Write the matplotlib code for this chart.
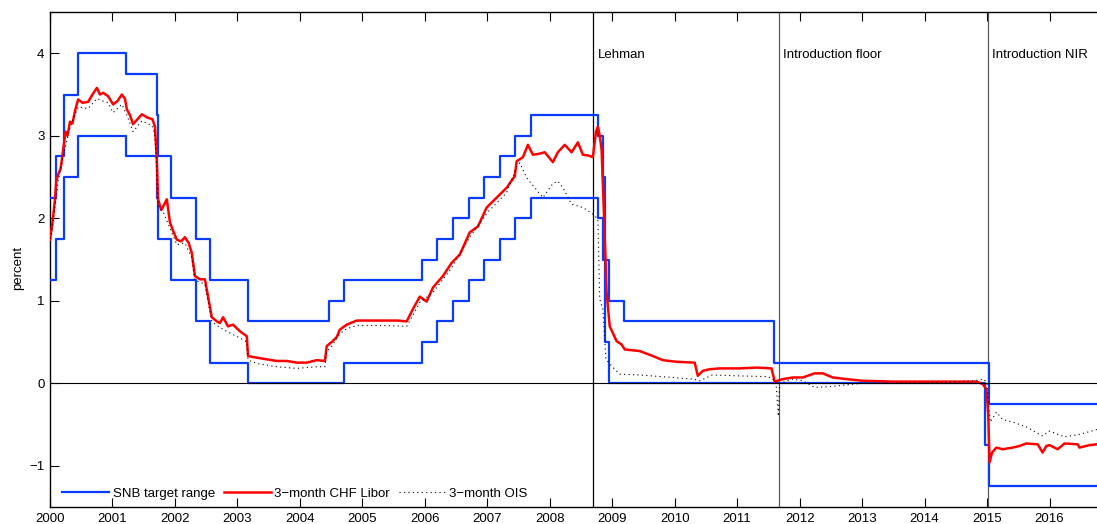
import numpy as np
import pandas as pd
import matplotlib
matplotlib.use('Agg')
import matplotlib.pyplot as plt

plt.rcParams['font.family'] = ['Liberation Sans', 'DejaVu Sans']
plt.rcParams['font.size'] = 9.5

# SNB target range for 3-month CHF Libor (start date of each range)
snb_dates = ['2000-01-01', '2000-02-03', '2000-03-23', '2000-06-15', '2001-03-22',
             '2001-09-17', '2001-09-24', '2001-12-07', '2002-05-02', '2002-07-26',
             '2003-03-06', '2004-06-17', '2004-09-16', '2005-12-15', '2006-03-16',
             '2006-06-15', '2006-09-14', '2006-12-14', '2007-03-15', '2007-06-14',
             '2007-09-13', '2008-10-08', '2008-11-06', '2008-11-20', '2008-12-11',
             '2009-03-12', '2011-08-03', '2014-12-18', '2015-01-15', '2016-12-31']
snb_lower = [1.25, 1.75, 2.5, 3.0, 2.75, 2.25, 1.75, 1.25, 0.75, 0.25,
             0.0, 0.0, 0.25, 0.5, 0.75, 1.0, 1.25, 1.5, 1.75, 2.0,
             2.25, 2.0, 1.5, 0.5, 0.0, 0.0, 0.0, -0.75, -1.25, -1.25]
snb_upper = [2.25, 2.75, 3.5, 4.0, 3.75, 3.25, 2.75, 2.25, 1.75, 1.25,
             0.75, 1.0, 1.25, 1.5, 1.75, 2.0, 2.25, 2.5, 2.75, 3.0,
             3.25, 3.0, 2.5, 1.5, 1.0, 0.75, 0.25, 0.25, -0.25, -0.25]

# 3-month CHF Libor (decimal year, percent)
libor_t = [2000.00, 2000.04, 2000.08, 2000.10, 2000.13, 2000.17, 2000.21, 2000.25, 2000.28, 2000.32,
           2000.36, 2000.40, 2000.45, 2000.52, 2000.61, 2000.68, 2000.75, 2000.80, 2000.85, 2000.93,
           2001.01, 2001.08, 2001.15, 2001.20, 2001.23, 2001.28, 2001.33, 2001.40, 2001.47, 2001.56,
           2001.64, 2001.68, 2001.71, 2001.73, 2001.78, 2001.81, 2001.87, 2001.92, 2001.97, 2002.03,
           2002.10, 2002.16, 2002.22, 2002.27, 2002.32, 2002.40, 2002.48, 2002.53, 2002.59, 2002.67,
           2002.72, 2002.77, 2002.85, 2002.93, 2003.04, 2003.15, 2003.17, 2003.31, 2003.47, 2003.63,
           2003.79, 2003.95, 2004.11, 2004.27, 2004.40, 2004.43, 2004.51, 2004.59, 2004.64, 2004.75,
           2004.91, 2005.12, 2005.33, 2005.55, 2005.71, 2005.81, 2005.92, 2006.03, 2006.13, 2006.29,
           2006.43, 2006.56, 2006.72, 2006.85, 2006.99, 2007.15, 2007.31, 2007.44, 2007.47, 2007.57,
           2007.65, 2007.73, 2007.82, 2007.92, 2008.05, 2008.13, 2008.24, 2008.35, 2008.45, 2008.53,
           2008.62, 2008.69, 2008.74, 2008.77, 2008.80, 2008.83, 2008.87, 2008.91, 2008.96, 2009.07,
           2009.15, 2009.20, 2009.44, 2009.65, 2009.81, 2010.03, 2010.32, 2010.37, 2010.45, 2010.56,
           2010.72, 2011.04, 2011.31, 2011.55, 2011.60, 2011.73, 2011.89, 2012.05, 2012.24, 2012.37,
           2012.53, 2012.75, 2013.01, 2013.50, 2013.97, 2014.51, 2014.83, 2014.93, 2014.99, 2015.02,
           2015.04, 2015.08, 2015.15, 2015.25, 2015.41, 2015.52, 2015.63, 2015.81, 2015.89, 2015.95,
           2016.00, 2016.13, 2016.24, 2016.45, 2016.48, 2016.64, 2016.76]
libor_v = [1.74, 1.95, 2.23, 2.45, 2.53, 2.60, 2.83, 3.05, 3.00, 3.17,
           3.15, 3.30, 3.44, 3.40, 3.41, 3.50, 3.58, 3.50, 3.52, 3.48,
           3.38, 3.42, 3.50, 3.45, 3.32, 3.25, 3.14, 3.20, 3.26, 3.22,
           3.20, 3.11, 2.71, 2.23, 2.10, 2.14, 2.23, 1.95, 1.85, 1.74,
           1.72, 1.77, 1.70, 1.58, 1.30, 1.26, 1.26, 1.05, 0.80, 0.75,
           0.73, 0.80, 0.69, 0.71, 0.63, 0.57, 0.33, 0.31, 0.29, 0.27,
           0.27, 0.25, 0.25, 0.28, 0.27, 0.45, 0.50, 0.56, 0.65, 0.71,
           0.76, 0.76, 0.76, 0.76, 0.75, 0.90, 1.05, 0.99, 1.16, 1.30,
           1.46, 1.56, 1.83, 1.90, 2.13, 2.25, 2.37, 2.51, 2.69, 2.74,
           2.89, 2.77, 2.78, 2.80, 2.68, 2.80, 2.89, 2.80, 2.92, 2.77,
           2.76, 2.74, 3.05, 3.11, 3.00, 2.83, 2.00, 1.10, 0.69, 0.51,
           0.47, 0.41, 0.39, 0.33, 0.28, 0.26, 0.25, 0.09, 0.15, 0.17,
           0.18, 0.18, 0.19, 0.18, 0.02, 0.05, 0.07, 0.07, 0.12, 0.12,
           0.07, 0.05, 0.03, 0.02, 0.02, 0.02, 0.02, -0.01, -0.07, -0.40,
           -0.96, -0.84, -0.78, -0.80, -0.78, -0.76, -0.73, -0.74, -0.84, -0.76,
           -0.75, -0.80, -0.73, -0.74, -0.78, -0.75, -0.74]

# 3-month OIS
ois_t = [2000.00, 2000.04, 2000.08, 2000.13, 2000.21, 2000.32, 2000.45, 2000.61, 2000.75, 2000.85,
         2000.93, 2001.01, 2001.15, 2001.23, 2001.33, 2001.47, 2001.64, 2001.68, 2001.71, 2001.73,
         2001.81, 2001.92, 2002.03, 2002.16, 2002.27, 2002.32, 2002.48, 2002.59, 2002.67, 2002.85,
         2003.04, 2003.15, 2003.17, 2003.31, 2003.63, 2003.95, 2004.27, 2004.40, 2004.43, 2004.51,
         2004.64, 2004.75, 2004.91, 2005.33, 2005.71, 2005.92, 2006.13, 2006.43, 2006.72, 2006.99,
         2007.31, 2007.47, 2007.52, 2007.63, 2007.76, 2007.89, 2008.05, 2008.13, 2008.21, 2008.35,
         2008.53, 2008.69, 2008.77, 2008.80, 2008.85, 2008.90, 2008.99, 2009.12, 2009.44, 2009.97,
         2010.30, 2010.40, 2010.60, 2011.00, 2011.50, 2011.62, 2011.66, 2011.68, 2011.89, 2012.05,
         2012.24, 2012.50, 2012.75, 2013.00, 2014.00, 2014.80, 2014.95, 2015.00, 2015.02, 2015.05,
         2015.15, 2015.25, 2015.41, 2015.63, 2015.89, 2016.00, 2016.24, 2016.48, 2016.76]
ois_v = [1.70, 1.90, 2.15, 2.45, 2.75, 3.10, 3.35, 3.33, 3.45, 3.42,
         3.40, 3.28, 3.38, 3.25, 3.05, 3.18, 3.12, 3.00, 2.60, 2.15,
         2.08, 1.88, 1.68, 1.70, 1.52, 1.25, 1.20, 0.75, 0.70, 0.62,
         0.55, 0.50, 0.28, 0.24, 0.20, 0.18, 0.20, 0.20, 0.38, 0.45,
         0.60, 0.66, 0.70, 0.70, 0.69, 0.98, 1.10, 1.40, 1.77, 2.06,
         2.31, 2.62, 2.67, 2.49, 2.37, 2.25, 2.42, 2.45, 2.37, 2.17,
         2.13, 2.05, 1.99, 1.02, 0.90, 0.29, 0.21, 0.11, 0.10, 0.07,
         0.05, 0.03, 0.10, 0.09, 0.08, 0.02, -0.40, 0.00, 0.05, 0.03,
         -0.05, -0.04, -0.02, 0.00, 0.00, 0.03, 0.05, 0.00, -0.20, -0.47,
         -0.35, -0.44, -0.47, -0.53, -0.64, -0.58, -0.65, -0.62, -0.56]

events = ['Lehman', 'Introduction floor', 'Introduction NIR']
event_t = [2008.70, 2011.67, 2015.01]
event_col = ['k', '0.35', '0.35']

years = list(range(2000, 2017))


def to_year(s):
    d = pd.Timestamp(s)
    start = pd.Timestamp(year=d.year, month=1, day=1)
    end = pd.Timestamp(year=d.year + 1, month=1, day=1)
    return d.year + (d - start) / (end - start)


snb_t = [to_year(s) for s in snb_dates]

fig = plt.figure(figsize=(10.97, 5.24), dpi=100)
ax = fig.add_axes([50 / 1097, 17 / 524, 1047 / 1097, 495 / 524])

blue = '#0a3cff'
ax.step(snb_t, snb_upper, where='post', color=blue, lw=1.6, label='SNB target range', zorder=3)
ax.step(snb_t, snb_lower, where='post', color=blue, lw=1.6, zorder=3)
ax.plot(libor_t, libor_v, color='red', lw=1.8, label='3\u2212month CHF Libor', zorder=4)
ax.plot(ois_t, ois_v, color='k', lw=0.8, linestyle=(0, (1, 3)), label='3\u2212month OIS', zorder=5)
ax.axhline(0, color='k', lw=0.8, zorder=6)

for name, t, c in zip(events, event_t, event_col):
    ax.axvline(t, color=c, lw=0.9, zorder=2)
    ax.text(t + 0.07, 3.98, name, va='center', ha='left', fontsize=9.5)

ax.set_xlim(2000, 2016.76)
ax.set_ylim(-1.5, 4.5)
ax.set_xticks(years)
ax.set_xticklabels([str(y) for y in years])
ax.set_yticks([-1, 0, 1, 2, 3, 4])
ax.set_yticklabels(['\u22121', '0', '1', '2', '3', '4'])
ax.tick_params(direction='in', length=6.5, width=0.8, top=True, right=False, pad=4)
ax.spines['right'].set_visible(False)
for s in ['left', 'bottom', 'top']:
    ax.spines[s].set_linewidth(1.0)
ax.set_ylabel('percent')
ax.yaxis.set_label_coords(-0.025, 0.483)

ax.legend(loc='lower left', bbox_to_anchor=(0.0, -0.01), ncol=3, frameon=False,
          handlelength=3.6, handletextpad=0.25, columnspacing=0.65, fontsize=9.5)

fig.savefig('out.png', dpi=100)
